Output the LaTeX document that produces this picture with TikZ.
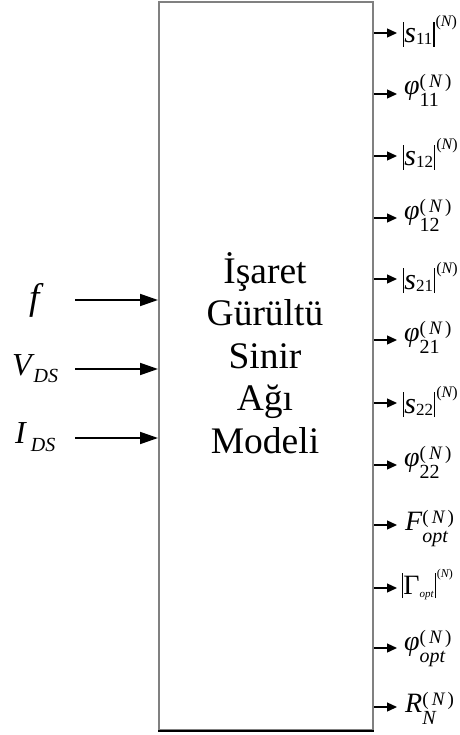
\documentclass[tikz,border=0pt]{standalone}
\usepackage{fontspec}
\setmainfont{Liberation Serif}
\usetikzlibrary{arrows.meta}
\newcommand{\mybar}{\rule[-4pt]{1.2pt}{25pt}}
\newcommand{\mysubnum}[1]{\lower2pt\hbox{\fontsize{17}{17}\selectfont #1}\hspace{1pt}}
\newcommand{\mysupN}{\hspace{1pt}\raise16pt\hbox{\fontsize{16}{16}\selectfont(\itshape N\upshape)}}
\newcommand{\mysupsub}[2]{\rlap{\lower12pt\hbox{\fontsize{20}{20}\selectfont #2}}\raise7pt\hbox{\fontsize{19}{19}\selectfont #1}}
\newcommand{\bigN}{(\,{\itshape N}\,)}
\begin{document}
\begin{tikzpicture}[x=1pt,y=-1pt,
  inarrow/.style={line width=1.8pt,-{Triangle[length=18pt,width=12pt]}},
  outarrow/.style={line width=1.3pt,-{Triangle[length=10pt,width=9pt]}},
  outlbl/.style={anchor=base west,inner sep=0pt,font=\fontsize{28}{30}\selectfont},
  slbl/.style={outlbl,font=\fontsize{30}{30}\selectfont},
  inlbl/.style={anchor=base west,inner sep=0pt,font=\fontsize{32}{36}\selectfont\itshape},
  boxline/.style={draw=gray,line width=2pt}]
\useasboundingbox (0,0) rectangle (459,735);
% main box
\node[boxline,minimum width=214pt,minimum height=727pt,inner sep=0pt,anchor=north west] (box) at (158,1.5) {};
\draw[black,line width=2pt] (box.south west) -- (box.south east);
\node[align=center,font=\fontsize{37.5}{42.5}\selectfont] (title) at (265,353) {İşaret\\Gürültü\\Sinir\\Ağı\\Modeli};
% inputs
\node[inlbl,font=\fontsize{37}{40}\selectfont\itshape] (lf) at (29,309) {f};
\node[inlbl] (lv) at (12,375) {V\hspace{2pt}\lower7pt\hbox{\fontsize{20}{20}\selectfont DS}};
\node[inlbl] (li) at (15,443) {I\hspace{5pt}\lower8pt\hbox{\fontsize{20}{20}\selectfont DS}};
\coordinate (sf) at (75,300);
\coordinate (sv) at (75,369);
\coordinate (si) at (75,438);
\draw[inarrow] (sf) -- (box.west |- sf);
\draw[inarrow] (sv) -- (box.west |- sv);
\draw[inarrow] (si) -- (box.west |- si);
% outputs: arrow tips
\coordinate (t1) at (397,33);
\coordinate (t2) at (397,94);
\coordinate (t3) at (397,156);
\coordinate (t4) at (397,218);
\coordinate (t5) at (397,279);
\coordinate (t6) at (397,340);
\coordinate (t7) at (397,403);
\coordinate (t8) at (397,465);
\coordinate (t9) at (397,525);
\coordinate (t10) at (397,588);
\coordinate (t11) at (397,648);
\coordinate (t12) at (397,707);
\foreach \i in {1,...,12}{\draw[outarrow] (box.east |- t\i) -- (t\i);}
% output labels
\node[slbl] (o1) at (403,43) {\mybar{\itshape s}\mysubnum{11}\mybar\mysupN};
\node[outlbl] (o2) at (404,95) {{\itshape φ}\mysupsub{\bigN}{11}};
\node[slbl] (o3) at (403,166) {\mybar{\itshape s}\mysubnum{12}\mybar\mysupN};
\node[outlbl] (o4) at (404,219) {{\itshape φ}\mysupsub{\bigN}{12}};
\node[slbl] (o5) at (403,289) {\mybar{\itshape s}\mysubnum{21}\mybar\mysupN};
\node[outlbl] (o6) at (404,341) {{\itshape φ}\mysupsub{\bigN}{21}};
\node[slbl] (o7) at (403,413) {\mybar{\itshape s}\mysubnum{22}\mybar\mysupN};
\node[outlbl] (o8) at (404,466) {{\itshape φ}\mysupsub{\bigN}{22}};
\node[outlbl] (o9) at (405,530) {{\itshape F}\mysupsub{\bigN}{\itshape opt}};
\node[outlbl] (o10) at (402,594) {\mybar Γ\lower3pt\hbox{\fontsize{11}{11}\selectfont\itshape opt}\hspace{1pt}\mybar\hspace{1pt}\raise17pt\hbox{\fontsize{12}{12}\selectfont(\itshape N\upshape)}};
\node[outlbl] (o11) at (404,650) {{\itshape φ}\mysupsub{\bigN}{\itshape opt}};
\node[outlbl] (o12) at (405,712) {{\itshape R}\mysupsub{\bigN}{\itshape N}};
\end{tikzpicture}
\end{document}
